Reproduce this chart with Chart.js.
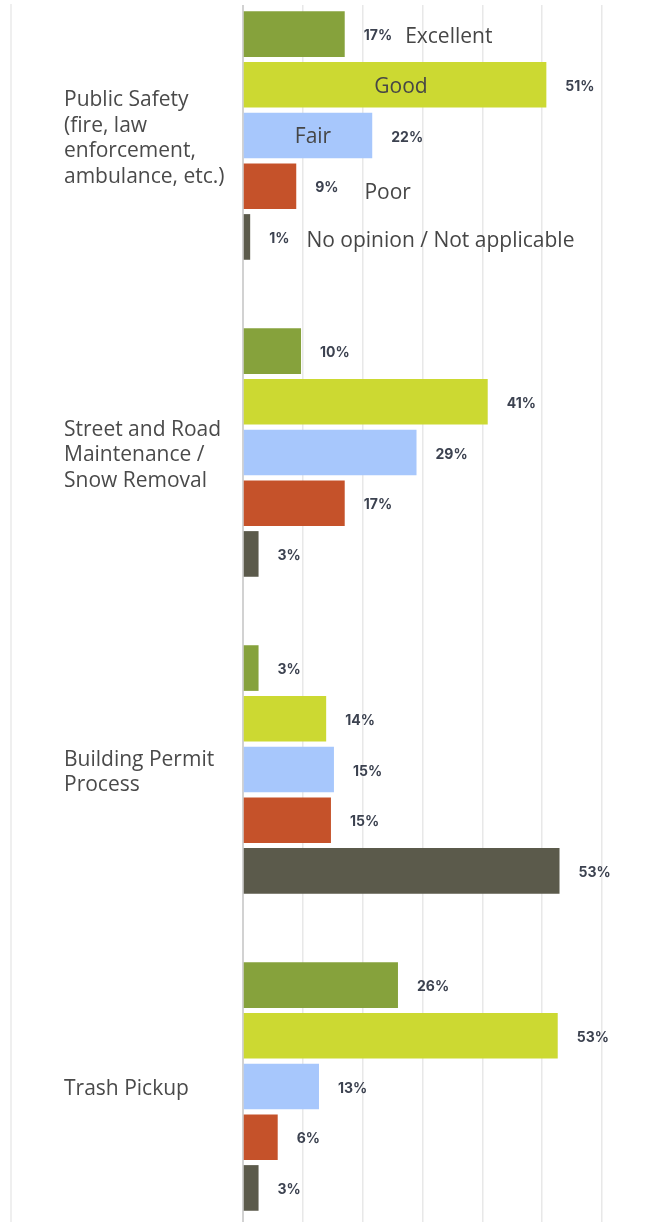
<!DOCTYPE html>
<html>
<head>
<meta charset="utf-8">
<script src="https://cdn.jsdelivr.net/npm/chart.js@4.4.1/dist/chart.umd.min.js"></script>
<style>
  html, body { margin: 0; padding: 0; background: #ffffff; overflow: hidden; width: 646px; height: 1222px; }
  #wrap { position: absolute; left: 0; top: -23px; width: 646px; height: 1268px; }
  #leftline { position: absolute; left: 10px; top: 4px; width: 2px; height: 1218px; background: #efefef; }
  #topmask { position: absolute; left: 200px; top: 0; width: 446px; height: 5px; background: #ffffff; z-index: 2; }
</style>
</head>
<body>
<div id="leftline"></div>
<div id="wrap"><canvas id="c"></canvas></div>
<div id="topmask"></div>
<script>
// ---- data ----
const categories = [
  ["Public Safety", "(fire, law", "enforcement,", "ambulance, etc.)"],
  ["Street and Road", "Maintenance /", "Snow Removal"],
  ["Building Permit", "Process"],
  ["Trash Pickup"]
];
const seriesNames = ["Excellent", "Good", "Fair", "Poor", "No opinion / Not applicable"];
const excellent = [17.0, 9.7, 2.6, 25.9];
const good      = [50.7, 40.9, 13.9, 52.6];
const fair      = [21.6, 29.0, 15.2, 12.7];
const poor      = [8.9, 17.0, 14.7, 5.8];
const noOpinion = [1.2, 2.6, 52.9, 2.6];
const xTicks    = [0, 10, 20, 30, 40, 50, 60];

// ---- styles ----
const colors = ["#86a23c", "#ccd932", "#a7c7fc", "#c5522a", "#5b5a4b"];
// inline legend placement on first category: [value anchor, align, y offset px]
const legendPlacement = [
  [27.1, "left", 3],
  [26.4, "center", 2],
  [11.7, "center", 2],
  [20.3, "left", 7],
  [10.6, "left", 4]
];

const seriesValues = [excellent, good, fair, poor, noOpinion];

const valueLabels = {
  id: "valueLabels",
  afterDatasetsDraw(chart) {
    const ctx = chart.ctx;
    ctx.save();
    ctx.font = "700 14px Inter, 'DejaVu Sans', sans-serif";
    ctx.fillStyle = "#3c4250";
    ctx.textAlign = "left";
    ctx.textBaseline = "middle";
    chart.data.datasets.forEach((ds, di) => {
      const meta = chart.getDatasetMeta(di);
      meta.data.forEach((bar, i) => {
        const v = ds.data[i];
        ctx.fillText(Math.round(v) + "%", bar.x + 19, bar.y + 2);
      });
    });
    // inline legend texts on first category
    ctx.font = "21px 'Open Sans', sans-serif";
    ctx.fillStyle = "#464646";
    const xs = chart.scales.x;
    chart.data.datasets.forEach((ds, di) => {
      const bar = chart.getDatasetMeta(di).data[0];
      const p = legendPlacement[di];
      ctx.textAlign = p[1];
      ctx.fillText(ds.label, xs.getPixelForValue(p[0]), bar.y + p[2]);
    });
    ctx.restore();
  }
};

new Chart(document.getElementById("c"), {
  type: "bar",
  data: {
    labels: categories,
    datasets: seriesNames.map((name, i) => ({
      label: name,
      data: seriesValues[i],
      backgroundColor: colors[i],
      borderWidth: 0,
      categoryPercentage: 0.8,
      barPercentage: 0.9
    }))
  },
  options: {
    indexAxis: "y",
    responsive: true,
    maintainAspectRatio: false,
    animation: false,
    layout: { padding: { left: 64, right: 44, top: 0, bottom: 0 } },
    plugins: { legend: { display: false }, tooltip: { enabled: false } },
    scales: {
      x: {
        min: 0, max: 60,
        afterBuildTicks: (s) => { s.ticks = xTicks.map(v => ({ value: v })); },
        afterFit: (s) => { s.height = 0; s.paddingLeft = 0; s.paddingRight = 0; },
        ticks: { display: false },
        grid: { color: "#e8e8e8", lineWidth: 1.5, drawTicks: false },
        border: { display: false }
      },
      y: {
        afterFit: (s) => { s.width = 179; s.paddingTop = 0; s.paddingBottom = 0; },
        ticks: {
          crossAlign: "far",
          labelOffset: 3,
          color: "#4a4a4a",
          font: { family: "'Open Sans', sans-serif", size: 21, lineHeight: 1.22 }
        },
        grid: { display: true, color: "transparent", drawTicks: false },
        border: { display: true, color: "#d2d2d2", width: 2 }
      }
    }
  },
  plugins: [valueLabels]
});
</script>
</body>
</html>
